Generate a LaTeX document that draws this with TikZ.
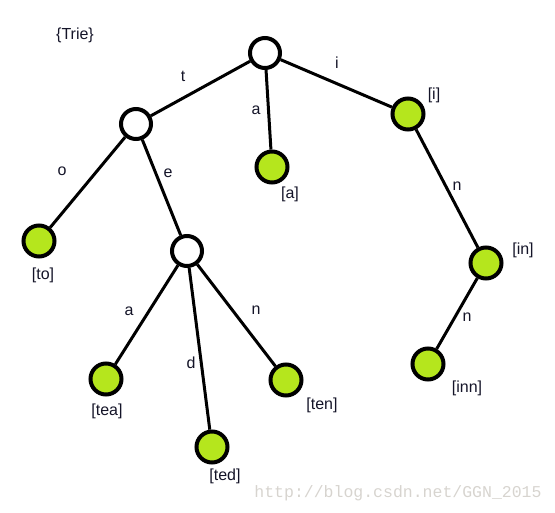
\documentclass[tikz,border=0pt]{standalone}
\usepackage{fontspec}
\setmainfont{Liberation Sans}
\newfontfamily\wmfont{Liberation Mono}
\definecolor{leafgreen}{RGB}{181,230,29}
\definecolor{labelink}{RGB}{20,20,40}
\definecolor{wmgray}{RGB}{215,212,207}
\begin{document}
\begin{tikzpicture}[x=1pt,y=-1pt,
  inner/.style={circle,draw=black,line width=4pt,fill=white,minimum size=30pt,inner sep=0pt},
  leaf/.style={circle,draw=black,line width=4pt,fill=leafgreen,minimum size=31pt,inner sep=0pt},
  edge/.style={line width=3pt,black},
  lbl/.style={font=\fontsize{16}{18}\selectfont,text=labelink,inner sep=0pt}]
\useasboundingbox (0,0) rectangle (555,513);
% nodes
\node[inner] (root) at (265,53) {};
\node[inner] (t) at (136,124) {};
\node[leaf] (a) at (272,167) {};
\node[leaf] (i) at (408,114) {};
\node[leaf] (to) at (39,241) {};
\node[inner] (te) at (187,251) {};
\node[leaf] (in) at (486,263) {};
\node[leaf] (inn) at (428,364) {};
\node[leaf] (tea) at (106,379) {};
\node[leaf] (ted) at (212,447) {};
\node[leaf] (ten) at (286,380) {};
% edges
\draw[edge] (root) -- (t);
\draw[edge] (root) -- (a);
\draw[edge] (root) -- (i);
\draw[edge] (t) -- (to);
\draw[edge] (t) -- (te);
\draw[edge] (i) -- (in);
\draw[edge] (in) -- (inn);
\draw[edge] (te) -- (tea);
\draw[edge] (te) -- (ted);
\draw[edge] (te) -- (ten);
% edge labels
\node[lbl] (lt) at (183,76) {t};
\node[lbl] (la) at (256,110) {a};
\node[lbl] (li) at (337,63) {i};
\node[lbl] (lo) at (62,171) {o};
\node[lbl] (le) at (168,173) {e};
\node[lbl] (ln1) at (457,186) {n};
\node[lbl] (ln2) at (467,317) {n};
\node[lbl] (la2) at (129,311) {a};
\node[lbl] (ld) at (191,363) {d};
\node[lbl] (ln3) at (256,310) {n};
% word labels
\node[lbl] (wtrie) at (75,35) {\{Trie\}};
\node[lbl] (wa) at (290,194) {[a]};
\node[lbl] (wi) at (434,95) {[i]};
\node[lbl] (wto) at (43,275) {[to]};
\node[lbl] (win) at (523,250) {[in]};
\node[lbl] (winn) at (467,388) {[inn]};
\node[lbl] (wtea) at (107,411) {[tea]};
\node[lbl] (wted) at (225,476) {[ted]};
\node[lbl] (wten) at (322,405) {[ten]};
% watermark
\node[font=\wmfont\fontsize{16.5}{18}\selectfont,text=wmgray,inner sep=0pt] (wm) at (398,493) {http://blog.csdn.net/GGN\_2015};
\end{tikzpicture}
\end{document}
